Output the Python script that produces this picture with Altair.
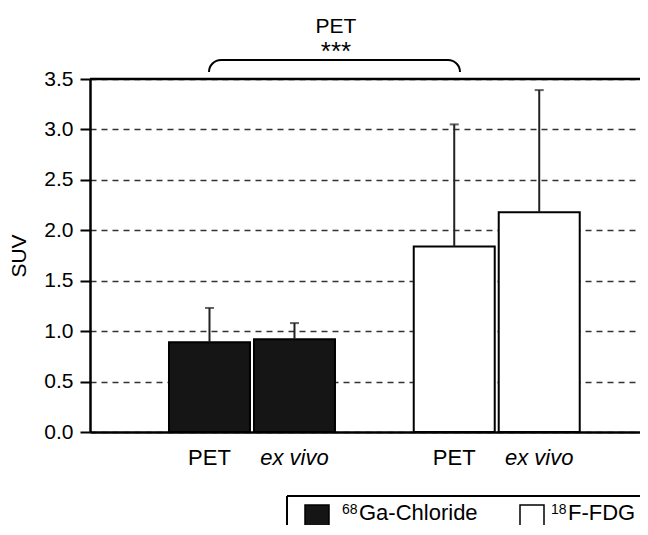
import altair as alt
import pandas as pd

# ---- data ----
tracers = ["68Ga-Chloride", "68Ga-Chloride", "18F-FDG", "18F-FDG"]
methods = ["PET", "ex vivo", "PET", "ex vivo"]
suv_mean = [0.89, 0.92, 1.84, 2.18]
suv_sd = [0.34, 0.16, 1.21, 1.21]

tracer_order = ["68Ga-Chloride", "18F-FDG"]
method_order = ["PET", "ex vivo"]
tracer_fill = ["#151515", "#ffffff"]
# legend text: (superscript isotope mass, element/compound)
legend_sup = ["68", "18"]
legend_main = ["Ga-Chloride", "F-FDG"]
y_ticks = [0.0, 0.5, 1.0, 1.5, 2.0, 2.5, 3.0, 3.5]

df = pd.DataFrame({
    "tracer": tracers,
    "method": methods,
    "suv": suv_mean,
    "upper": [m + s for m, s in zip(suv_mean, suv_sd)],
})

W, H = 550, 353
FONT = "Liberation Sans"

x_enc = alt.X(
    "tracer:N",
    sort=tracer_order,
    scale=alt.Scale(domain=tracer_order, paddingInner=0.3218,
                    paddingOuter=0.2845, align=0.5672),
    axis=alt.Axis(labels=False, ticks=False, title=None, grid=False,
                  domainColor="black", domainWidth=2.5),
)
xo_enc = alt.XOffset(
    "method:N",
    sort=method_order,
    scale=alt.Scale(domain=method_order, paddingInner=0.047, paddingOuter=0),
)
y_scale = alt.Scale(domain=[0, 3.5], nice=False)
fill_scale = alt.Scale(domain=tracer_order, range=tracer_fill)

base = alt.Chart(df)

bars = base.mark_bar(stroke="black", strokeWidth=2).encode(
    x=x_enc,
    xOffset=xo_enc,
    y=alt.Y(
        "suv:Q",
        scale=y_scale,
        axis=alt.Axis(
            values=y_ticks, format=".1f", title="SUV",
            titleFontSize=21, titleFont=FONT, titleFontWeight="normal",
            titleColor="black", titleAngle=270, titleX=-71, titleY=H / 2,
            titleBaseline="middle", titleAlign="center",
            labelFontSize=21, labelFont=FONT, labelColor="black",
            labelPadding=7,
            tickSize=10, tickWidth=2, tickColor="black",
            domainColor="black", domainWidth=2.5,
            grid=True, gridDash=[6, 5], gridColor="#333333", gridWidth=1.5,
        ),
    ),
    fill=alt.Fill("tracer:N", scale=fill_scale, legend=None),
)

err_rule = base.mark_rule(color="#222222", strokeWidth=2).encode(
    x=x_enc, xOffset=xo_enc,
    y=alt.Y("suv:Q", scale=y_scale),
    y2="upper:Q",
)
err_cap = base.mark_tick(color="#222222", thickness=2, size=9).encode(
    x=x_enc, xOffset=xo_enc,
    y=alt.Y("upper:Q", scale=y_scale),
)

label_pet = base.transform_filter(alt.datum.method == "PET").mark_text(
    fontSize=22, font=FONT, color="black", baseline="middle"
).encode(x=x_enc, xOffset=xo_enc, y=alt.value(H + 26), text="method:N")

label_ex = base.transform_filter(alt.datum.method == "ex vivo").mark_text(
    fontSize=22, font=FONT, color="black", baseline="middle", fontStyle="italic"
).encode(x=x_enc, xOffset=xo_enc, y=alt.value(H + 26), text="method:N")

top_line = alt.Chart().mark_rule(color="black", strokeWidth=2.5).encode(
    y=alt.datum(3.5, scale=y_scale)
)

# significance bracket above the plot
bracket_line = alt.Chart().mark_rule(color="black", strokeWidth=2).encode(
    x=alt.value(131), x2=alt.value(358), y=alt.value(-19)
)
arc_left = alt.Chart().mark_arc(
    filled=False, stroke="black", strokeWidth=2,
    radius=12, radius2=12, theta=4.7124, theta2=6.2832,
).encode(x=alt.value(131), y=alt.value(-7))
arc_right = alt.Chart().mark_arc(
    filled=False, stroke="black", strokeWidth=2,
    radius=12, radius2=12, theta=0, theta2=1.5708,
).encode(x=alt.value(358), y=alt.value(-7))

stars = alt.Chart().mark_text(
    text="***", fontSize=26, font=FONT, color="black", baseline="middle"
).encode(x=alt.value(246), y=alt.value(-27))
pet_title = alt.Chart().mark_text(
    text="PET", fontSize=21, font=FONT, color="black", baseline="middle"
).encode(x=alt.value(246), y=alt.value(-52))

# legend box (extends past the right and bottom edges, as in the reference)
leg_top = alt.Chart().mark_rule(color="black", strokeWidth=2).encode(
    x=alt.value(197), x2=alt.value(W + 5), y=alt.value(417)
)
leg_left = alt.Chart().mark_rule(color="black", strokeWidth=2).encode(
    x=alt.value(197), y=alt.value(417), y2=alt.value(470)
)


def legend_item(i, sq_x, text_x):
    row = base.transform_filter(
        (alt.datum.tracer == tracer_order[i]) & (alt.datum.method == "PET")
    )
    sq = row.mark_square(size=576, stroke="black", strokeWidth=1.5,
                         opacity=1).encode(
        x=alt.value(sq_x), y=alt.value(438),
        fill=alt.Fill("tracer:N", scale=fill_scale, legend=None),
    )
    sup = alt.Chart().mark_text(
        text=legend_sup[i], fontSize=14, font=FONT, color="black",
        align="left", baseline="alphabetic",
    ).encode(x=alt.value(text_x), y=alt.value(435))
    main = alt.Chart().mark_text(
        text=legend_main[i], fontSize=22, font=FONT, color="black",
        align="left", baseline="alphabetic",
    ).encode(x=alt.value(text_x + 17), y=alt.value(441))
    return [sq, sup, main]


legend_layers = legend_item(0, 227, 252) + legend_item(1, 442, 461)

chart = alt.layer(
    bars, err_rule, err_cap, label_pet, label_ex, top_line,
    bracket_line, arc_left, arc_right, stars, pet_title,
    leg_top, leg_left, *legend_layers,
).properties(
    width=W, height=H,
    autosize=alt.AutoSizeParams(type="none"),
    padding={"left": 82, "top": 71, "right": 0, "bottom": 93},
).configure(font=FONT, background="white").configure_view(stroke=None)

chart.save("out.html", embed_options={"renderer": "svg", "actions": False})
